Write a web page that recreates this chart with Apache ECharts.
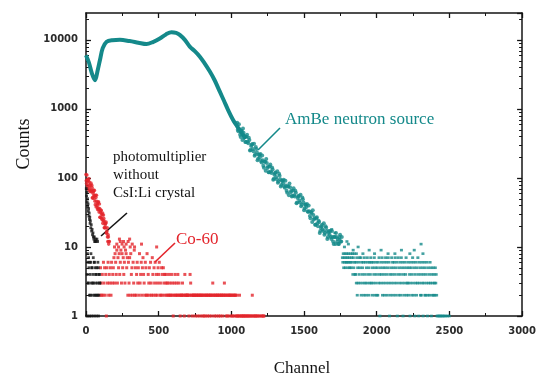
<!DOCTYPE html>
<html>
<head>
<meta charset="utf-8">
<title>Counts vs Channel</title>
<script src="https://cdn.jsdelivr.net/npm/echarts@6/dist/echarts.min.js"></script>
<style>
  html, body { margin: 0; padding: 0; background: #fff; }
  #chart { width: 539px; height: 381px; }
</style>
</head>
<body>
<div id="chart"></div>
<script>
// ---- axis ticks ----
const xTicks = [0, 500, 1000, 1500, 2000, 2500, 3000];
const yTicks = [1, 10, 100, 1000, 10000];
const yTop = 24500;

// ---- AmBe neutron source ----
// smooth part of the spectrum
const ambeLineCh = [0, 20, 40, 62, 80, 96, 115, 142, 180, 233, 300, 360, 416, 460, 508, 550, 588, 620, 645, 680, 714, 750, 782, 815, 851, 885, 920, 950, 977, 1012, 1040, 1070, 1100];
const ambeLineCounts = [6000, 4700, 3300, 2600, 3600, 5100, 7600, 9400, 9900, 10000, 9600, 9100, 8700, 9300, 10500, 12000, 12900, 12600, 11800, 10000, 8000, 6800, 5750, 4600, 3500, 2600, 1790, 1300, 970, 690, 560, 450, 370];
// falling edge, one sample every 8 channels from channel 1040 ...
const ambeEdgeStart = 1040, ambeEdgeStep = 8;
const ambeEdgeCounts = [631, 475, 507, 391, 478, 521, 384, 332, 396, 334, 381, 249, 290, 309, 243, 210, 281, 233, 189, 217,
  222, 168, 180, 140, 172, 188, 139, 121, 146, 124, 142, 94, 111, 120, 96, 85, 115, 96, 79, 91,
  94, 72, 78, 61, 75, 83, 62, 54, 66, 56, 65, 43, 51, 55, 44, 39, 52, 44, 36, 41,
  42, 32, 33, 26, 31, 34, 25, 21, 26, 22, 24, 16, 19, 21, 17, 15, 20, 17, 14, 17,
  17, 13, 14, 11, 14, 16, 12, 11, 14, 12, 14];
// ... and the channels in between, from channel 1044
const ambeEdgeStartB = 1044;
const ambeEdgeCountsB = [500, 597, 421, 480, 353, 453, 401, 331, 423, 318, 354, 254, 303, 262, 312, 219, 262, 181, 217, 198,
  176, 212, 150, 172, 127, 164, 146, 121, 156, 118, 133, 97, 117, 103, 125, 89, 108, 75, 91, 84,
  75, 91, 65, 75, 56, 73, 65, 55, 71, 54, 61, 44, 54, 47, 57, 41, 49, 34, 41, 38,
  33, 40, 28, 32, 23, 29, 26, 21, 27, 20, 23, 17, 20, 18, 22, 16, 19, 13, 16, 15,
  14, 17, 12, 14, 11, 14, 13, 11, 15, 12];
// low-count tail: one digit (count) every 3 channels from channel 1764, 0 = empty
const ambeTailStart = 1764, ambeTailStep = 3;
const ambeTailDigits = [
  "7685768576", "8675867568", "5768475864",
  "4637253647", "5372645362", "7436253746", "2536473625", "3647253642",
  "5263741536", "4725364257", "3642573614", "2537462536", "4725361472", "5364275361", "4253647253",
  "3625413652", "4736251436", "2537416352", "4263514362",
  "5243612534", "2635142352", "4325342",
  "1010010101", "0010100100", "1000100010"
].join("");
// isolated channels above the tail rows
const ambeStrayCh = [1690, 1712, 1745, 1778, 1795, 1805, 1838, 1860, 1872, 1905, 1948, 1985, 2030, 2078, 2125, 2170, 2228, 2258, 2305, 2318];
const ambeStrayCounts = [18, 16, 13, 10, 12, 11, 9, 8, 10, 8, 9, 8, 9, 8, 8, 9, 8, 9, 11, 8];

// ---- Co-60 ----
// steep low-channel part, one sample every 4 channels from channel 0 ...
const coRiseStart = 0, coRiseStep = 4;
const coRiseCounts = [112, 83, 95, 72, 93, 98, 72, 63, 79, 66, 78, 51, 60, 66, 50, 55, 41, 52, 56, 40,
  35, 44, 35, 42, 27, 32, 34, 26, 29, 22, 29, 24, 19, 21, 22, 16, 17, 14, 15, 11, 12];
// ... and the channels in between, from channel 2
const coRiseStartB = 2;
const coRiseCountsB = [91, 110, 78, 90, 67, 87, 78, 65, 84, 64, 72, 52, 63, 55, 66, 46, 56, 38, 46, 42,
  37, 45, 32, 36, 27, 34, 30, 25, 31, 24, 26, 19, 22, 19, 23, 16, 19, 12, 14, 12];
// low counts, one digit every 4 channels from channel 96, 0 = empty
const coTailStart = 96, coTailStep = 4;
const coTailDigits = [
  "25324263524153624352634",
  "5738649375846938574639857",
  "26372845263925",
  "24635283462574326528",
  "243526327425362423546232542534243",
  "2324232243212342232423212",
  "2232214222", "2221243221", "2222122212", "2212221221", "2122212212",
  "2212322122", "1222122122", "2122322121", "2212221212", "2122121",
  "1012101101", "1011010110", "1010121010", "1101010100", "101011"
].join("");
const coHighCh = [196, 212, 224, 230, 236, 248, 258, 262, 276, 290, 300, 304, 318, 334, 382, 486];
const coHighCounts = [10, 11, 10, 13, 12, 11, 12, 10, 11, 12, 13, 10, 11, 10, 11, 10];

// ---- photomultiplier without CsI:Li crystal ----
const pmCh = [2, 4, 6, 8, 10, 12, 14, 16, 18, 20, 22, 24, 26, 28, 30, 33, 36, 39, 42, 45, 48, 51, 54, 57, 60, 63, 66, 70, 75, 80,
  8, 12, 16, 20, 24, 28, 32, 36, 40, 44, 48, 52, 56, 60, 64, 68, 72, 76, 80, 84, 88, 92, 96,
  10, 18, 26, 34, 42, 50, 58, 66, 74, 82, 90, 14, 30, 46, 62, 78, 94, 6, 22, 38, 54, 70, 86];
const pmCounts = [70, 55, 62, 45, 50, 38, 42, 33, 36, 28, 31, 25, 27, 22, 24, 19, 21, 17, 18, 15, 16, 14, 13, 14, 12, 12, 13, 12, 13, 12,
  4, 6, 3, 5, 2, 4, 6, 3, 5, 2, 4, 3, 6, 2, 5, 3, 4, 2, 3, 5, 2, 4, 3,
  8, 7, 6, 8, 5, 7, 6, 4, 5, 6, 4, 3, 2, 3, 2, 2, 3, 1, 1, 1, 1, 1, 1];

// ---- colours ----
const TEAL = '#14898a';
const RED = '#e3252c';
const INK = '#141414';

// ---- helpers turning the arrays into [channel, counts] pairs ----
const zip = (xs, ys) => xs.map((x, i) => [x, ys[i]]);
const stepped = (start, step, ys) => ys.map((y, i) => [start + i * step, y]);
const fromDigits = (start, step, digits) => {
  const out = [];
  for (let i = 0; i < digits.length; i++) {
    const c = Number(digits[i]);
    if (c > 0) out.push([start + i * step, c]);
  }
  return out;
};

const ambeLine = zip(ambeLineCh, ambeLineCounts);
const ambeEdge = stepped(ambeEdgeStart, ambeEdgeStep, ambeEdgeCounts)
  .concat(stepped(ambeEdgeStartB, ambeEdgeStep, ambeEdgeCountsB));
const ambeTail = fromDigits(ambeTailStart, ambeTailStep, ambeTailDigits)
  .concat(zip(ambeStrayCh, ambeStrayCounts));
const coRise = stepped(coRiseStart, coRiseStep, coRiseCounts)
  .concat(stepped(coRiseStartB, coRiseStep, coRiseCountsB));
const coTail = fromDigits(coTailStart, coTailStep, coTailDigits)
  .concat(zip(coHighCh, coHighCounts));
const pmPoints = zip(pmCh, pmCounts);

const chart = echarts.init(document.getElementById('chart'), null, { renderer: 'canvas' });

const frame = { show: true, onZero: false, lineStyle: { color: INK, width: 1.5 } };
const tickFont = { color: '#2a2a2a', fontFamily: 'DejaVu Sans', fontWeight: 'bold', fontSize: 10 };

const xAxisBase = {
  type: 'value',
  min: xTicks[0],
  max: xTicks[xTicks.length - 1],
  interval: xTicks[1] - xTicks[0],
  axisLine: frame,
  splitLine: { show: false },
  axisTick: { show: true, inside: true, length: 5, lineStyle: { color: INK, width: 1.3 } },
  minorTick: { show: true, splitNumber: 2, length: 3, lineStyle: { color: INK, width: 1 } },
  minorSplitLine: { show: false }
};
const yAxisBase = {
  type: 'log',
  logBase: 10,
  min: yTicks[0],
  max: yTop,
  axisLine: frame,
  splitLine: { show: false },
  axisTick: { show: true, inside: true, length: 5, lineStyle: { color: INK, width: 1.3 } }
};

const scatter = (name, data, color, size, symbol, z) => ({
  name, type: 'scatter', data, symbol, symbolSize: size,
  itemStyle: { color }, silent: true, z
});

chart.setOption({
  animation: false,
  backgroundColor: '#fff',
  grid: { left: 86, right: 16, top: 13, bottom: 65, containLabel: false },
  xAxis: [
    Object.assign({}, xAxisBase, {
      position: 'bottom',
      axisLabel: Object.assign({ margin: 10, formatter: v => String(v) }, tickFont)
    }),
    Object.assign({}, xAxisBase, { position: 'top', axisLabel: { show: false } })
  ],
  yAxis: [
    Object.assign({}, yAxisBase, {
      position: 'left',
      axisLabel: Object.assign({
        margin: 8,
        showMaxLabel: false,
        formatter: v => (yTicks.indexOf(Math.round(v)) >= 0 ? String(Math.round(v)) : '')
      }, tickFont)
    }),
    Object.assign({}, yAxisBase, { position: 'right', axisLabel: { show: false } })
  ],
  series: [
    scatter('Co-60', coRise, RED, 3.6, 'circle', 2),
    scatter('Co-60 tail', coTail, RED, [3, 3], 'rect', 2),
    scatter('photomultiplier without CsI:Li crystal', pmPoints, INK, [2.8, 2.8], 'rect', 3),
    {
      name: 'AmBe neutron source',
      type: 'line',
      data: ambeLine,
      smooth: 0.35,
      showSymbol: false,
      lineStyle: { color: TEAL, width: 4 },
      silent: true,
      z: 4
    },
    scatter('AmBe neutron source edge', ambeEdge, TEAL, 4, 'circle', 4),
    scatter('AmBe neutron source tail', ambeTail, TEAL, [3, 2.6], 'rect', 4)
  ]
});

// minor ticks of the logarithmic axes (2..9 in every decade), plus captions
const graphics = [];
const xLeft = chart.convertToPixel({ xAxisIndex: 0 }, xTicks[0]);
const xRight = chart.convertToPixel({ xAxisIndex: 0 }, xTicks[xTicks.length - 1]);
for (let d = 0; d < yTicks.length; d++) {
  for (let k = 2; k <= 9; k++) {
    const v = k * yTicks[d];
    if (v >= yTop) continue;
    const y = Math.round(chart.convertToPixel({ yAxisIndex: 0 }, v)) + 0.5;
    graphics.push({ type: 'line', silent: true, shape: { x1: xLeft, y1: y, x2: xLeft + 3, y2: y }, style: { stroke: INK, lineWidth: 1 } });
    graphics.push({ type: 'line', silent: true, shape: { x1: xRight, y1: y, x2: xRight - 3, y2: y }, style: { stroke: INK, lineWidth: 1 } });
  }
}

const serif = 'Liberation Serif, Times New Roman, serif';
graphics.push(
  { type: 'text', x: 24, y: 144, rotation: Math.PI / 2, silent: true,
    style: { text: 'Counts', fill: INK, fontFamily: serif, fontSize: 18, align: 'center', verticalAlign: 'middle' } },
  { type: 'text', x: 302, y: 369, silent: true,
    style: { text: 'Channel', fill: INK, fontFamily: serif, fontSize: 17, align: 'center', verticalAlign: 'middle' } },
  { type: 'text', x: 113, y: 148, silent: true,
    style: { text: 'photomultiplier\nwithout\nCsI:Li crystal', fill: INK, fontFamily: serif, fontSize: 15, lineHeight: 18, align: 'left', verticalAlign: 'top' } },
  { type: 'line', silent: true, shape: { x1: 127, y1: 213, x2: 101, y2: 236 }, style: { stroke: INK, lineWidth: 1.6 } },
  { type: 'text', x: 176, y: 240, silent: true,
    style: { text: 'Co-60', fill: RED, fontFamily: serif, fontSize: 17, align: 'left', verticalAlign: 'middle' } },
  { type: 'line', silent: true, shape: { x1: 175, y1: 243, x2: 155, y2: 262 }, style: { stroke: RED, lineWidth: 1.6 } },
  { type: 'text', x: 285, y: 120, silent: true,
    style: { text: 'AmBe neutron source', fill: TEAL, fontFamily: serif, fontSize: 17, align: 'left', verticalAlign: 'middle' } },
  { type: 'line', silent: true, shape: { x1: 280, y1: 128, x2: 258, y2: 150 }, style: { stroke: TEAL, lineWidth: 1.6 } }
);
chart.setOption({ graphic: graphics });
</script>
</body>
</html>
